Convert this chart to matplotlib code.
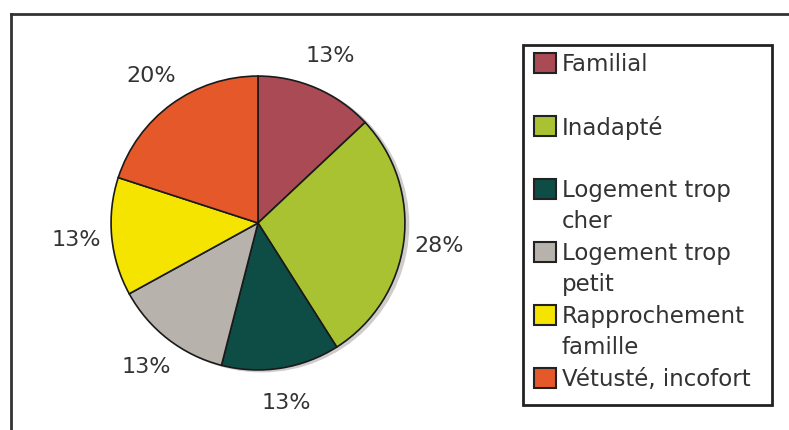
import matplotlib
matplotlib.use("Agg")
import matplotlib.pyplot as plt
from matplotlib.patches import Rectangle, Circle
from matplotlib.lines import Line2D

categories = ["Familial", "Inadapté", "Logement trop\ncher", "Logement trop\npetit",
              "Rapprochement\nfamille", "Vétusté, incofort"]
values = [13, 28, 13, 13, 13, 20]
colors = ["#A94A55", "#A9C232", "#0E4D45", "#B7B3AC", "#F4E400", "#E4582A"]

W, H = 789, 430
fig = plt.figure(figsize=(W / 100, H / 100), dpi=100)
fig.patch.set_facecolor("white")

def fx(px):
    return px / W

def fy(py):
    return 1 - py / H

# outer frame (top and left edges)
fig.add_artist(Line2D([fx(11), fx(789)], [fy(14), fy(14)], color="#333333", lw=2))
fig.add_artist(Line2D([fx(11), fx(11)], [fy(14), fy(430)], color="#333333", lw=2))

# pie
cx, cy, half = 258, 223, 180
ax = fig.add_axes([fx(cx - half), fy(cy + half), 2 * half / W, 2 * half / H])
ax.axis("off")
ax.add_patch(Circle((0.025, -0.012), 1.0, color="#D0CCCC", zorder=0))
wedges, texts = ax.pie(values, colors=colors, startangle=90, counterclock=False,
                       labels=[f"{v}%" for v in values], labeldistance=1.24,
                       wedgeprops=dict(edgecolor="#1a1a1a", linewidth=1.2),
                       textprops=dict(fontsize=16, color="#333333"))
for t in texts:
    t.set_horizontalalignment("center")
ax.set_xlim(-1.225, 1.225)
ax.set_ylim(-1.225, 1.225)

# legend drawn by hand (entries are not evenly sized in the original)
fig.add_artist(Rectangle((fx(523), fy(405)), fx(772) - fx(523), fy(45) - fy(405),
                         transform=fig.transFigure, fill=False,
                         edgecolor="#222222", lw=2))
top0, step = 53, 63
for i, (lab, col) in enumerate(zip(categories, colors)):
    top = top0 + i * step
    fig.add_artist(Rectangle((fx(534), fy(top + 20)), 22 / W, 20 / H,
                             transform=fig.transFigure, facecolor=col,
                             edgecolor="#222222", lw=1.5))
    fig.text(fx(562), fy(top), lab, fontsize=16.5, color="#333333",
             va="top", ha="left", linespacing=1.45)

fig.savefig("out.png", dpi=100)
